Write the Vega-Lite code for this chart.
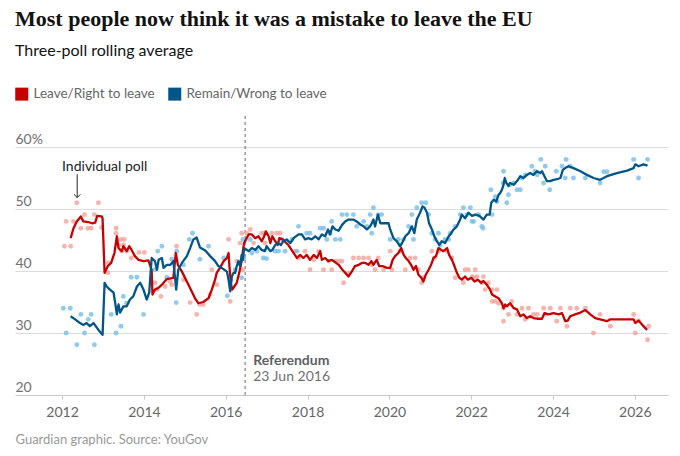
{
  "$schema": "https://vega.github.io/schema/vega-lite/v6.json",
  "width": 653,
  "height": 279,
  "autosize": {"type": "none"},
  "padding": {"left": 15, "top": 116, "right": 12, "bottom": 61},
  "title": {
    "text": "Most people now think it was a mistake to leave the EU",
    "subtitle": "Three-poll rolling average",
    "anchor": "start",
    "frame": "group",
    "offset": 27,
    "font": "Liberation Serif",
    "fontSize": 22,
    "fontWeight": "bold",
    "color": "#121212",
    "subtitleFont": "Lato",
    "subtitleFontSize": 16,
    "subtitleColor": "#121212",
    "subtitlePadding": 12
  },
  "datasets": {
    "avg": [
      {"t": 2012.21, "v": 45.3, "s": "L"}, {"t": 2012.28, "v": 46.9, "s": "L"}, {"t": 2012.36, "v": 48.0, "s": "L"},
      {"t": 2012.46, "v": 48.8, "s": "L"}, {"t": 2012.52, "v": 48.0, "s": "L"}, {"t": 2012.64, "v": 47.9, "s": "L"},
      {"t": 2012.73, "v": 47.7, "s": "L"}, {"t": 2012.81, "v": 47.8, "s": "L"}, {"t": 2012.86, "v": 48.9, "s": "L"},
      {"t": 2012.97, "v": 48.8, "s": "L"}, {"t": 2012.99, "v": 48.5, "s": "L"}, {"t": 2013.04, "v": 39.7, "s": "L"},
      {"t": 2013.12, "v": 40.8, "s": "L"}, {"t": 2013.2, "v": 41.3, "s": "L"}, {"t": 2013.28, "v": 42.9, "s": "L"},
      {"t": 2013.34, "v": 45.6, "s": "L"}, {"t": 2013.38, "v": 43.7, "s": "L"}, {"t": 2013.46, "v": 43.2, "s": "L"},
      {"t": 2013.5, "v": 44.0, "s": "L"}, {"t": 2013.58, "v": 43.2, "s": "L"}, {"t": 2013.64, "v": 44.0, "s": "L"},
      {"t": 2013.7, "v": 43.4, "s": "L"}, {"t": 2013.78, "v": 42.4, "s": "L"}, {"t": 2013.87, "v": 41.8, "s": "L"},
      {"t": 2013.99, "v": 41.6, "s": "L"}, {"t": 2014.11, "v": 41.7, "s": "L"}, {"t": 2014.19, "v": 40.2, "s": "L"},
      {"t": 2014.21, "v": 36.2, "s": "L"}, {"t": 2014.27, "v": 37.0, "s": "L"}, {"t": 2014.36, "v": 37.3, "s": "L"},
      {"t": 2014.44, "v": 37.8, "s": "L"}, {"t": 2014.56, "v": 38.7, "s": "L"}, {"t": 2014.72, "v": 38.9, "s": "L"},
      {"t": 2014.78, "v": 42.9, "s": "L"}, {"t": 2014.83, "v": 41.0, "s": "L"}, {"t": 2014.93, "v": 39.9, "s": "L"},
      {"t": 2015.05, "v": 38.3, "s": "L"}, {"t": 2015.17, "v": 36.7, "s": "L"}, {"t": 2015.25, "v": 35.6, "s": "L"},
      {"t": 2015.33, "v": 34.8, "s": "L"}, {"t": 2015.45, "v": 35.0, "s": "L"}, {"t": 2015.58, "v": 35.6, "s": "L"},
      {"t": 2015.66, "v": 37.0, "s": "L"}, {"t": 2015.74, "v": 38.6, "s": "L"}, {"t": 2015.78, "v": 39.7, "s": "L"},
      {"t": 2015.86, "v": 40.5, "s": "L"}, {"t": 2015.95, "v": 41.6, "s": "L"}, {"t": 2016.03, "v": 42.1, "s": "L"},
      {"t": 2016.07, "v": 42.9, "s": "L"}, {"t": 2016.09, "v": 40.8, "s": "L"}, {"t": 2016.13, "v": 37.8, "s": "L"},
      {"t": 2016.16, "v": 37.0, "s": "L"}, {"t": 2016.21, "v": 37.5, "s": "L"}, {"t": 2016.27, "v": 38.1, "s": "L"},
      {"t": 2016.33, "v": 39.7, "s": "L"}, {"t": 2016.39, "v": 41.6, "s": "L"}, {"t": 2016.43, "v": 43.7, "s": "L"},
      {"t": 2016.45, "v": 44.5, "s": "L"}, {"t": 2016.56, "v": 45.9, "s": "L"}, {"t": 2016.64, "v": 45.9, "s": "L"},
      {"t": 2016.72, "v": 45.3, "s": "L"}, {"t": 2016.8, "v": 45.6, "s": "L"}, {"t": 2016.88, "v": 44.8, "s": "L"},
      {"t": 2016.94, "v": 45.6, "s": "L"}, {"t": 2016.98, "v": 46.4, "s": "L"}, {"t": 2017.05, "v": 45.6, "s": "L"},
      {"t": 2017.09, "v": 44.5, "s": "L"}, {"t": 2017.14, "v": 45.6, "s": "L"}, {"t": 2017.21, "v": 44.8, "s": "L"},
      {"t": 2017.27, "v": 44.2, "s": "L"}, {"t": 2017.31, "v": 45.3, "s": "L"}, {"t": 2017.39, "v": 45.1, "s": "L"},
      {"t": 2017.53, "v": 44.2, "s": "L"}, {"t": 2017.66, "v": 42.9, "s": "L"}, {"t": 2017.74, "v": 42.1, "s": "L"},
      {"t": 2017.82, "v": 42.6, "s": "L"}, {"t": 2017.9, "v": 42.1, "s": "L"}, {"t": 2017.98, "v": 42.6, "s": "L"},
      {"t": 2018.06, "v": 41.8, "s": "L"}, {"t": 2018.15, "v": 42.6, "s": "L"}, {"t": 2018.23, "v": 42.1, "s": "L"},
      {"t": 2018.31, "v": 43.2, "s": "L"}, {"t": 2018.35, "v": 41.8, "s": "L"}, {"t": 2018.43, "v": 42.1, "s": "L"},
      {"t": 2018.51, "v": 41.6, "s": "L"}, {"t": 2018.59, "v": 41.8, "s": "L"}, {"t": 2018.68, "v": 41.4, "s": "L"},
      {"t": 2018.76, "v": 41.0, "s": "L"}, {"t": 2018.84, "v": 40.3, "s": "L"}, {"t": 2018.92, "v": 39.7, "s": "L"},
      {"t": 2019.0, "v": 39.1, "s": "L"}, {"t": 2019.08, "v": 39.9, "s": "L"}, {"t": 2019.16, "v": 40.8, "s": "L"},
      {"t": 2019.25, "v": 41.0, "s": "L"}, {"t": 2019.33, "v": 41.3, "s": "L"}, {"t": 2019.41, "v": 41.3, "s": "L"},
      {"t": 2019.49, "v": 41.0, "s": "L"}, {"t": 2019.56, "v": 41.6, "s": "L"}, {"t": 2019.61, "v": 41.0, "s": "L"},
      {"t": 2019.69, "v": 41.8, "s": "L"}, {"t": 2019.75, "v": 40.8, "s": "L"}, {"t": 2019.83, "v": 40.8, "s": "L"},
      {"t": 2019.94, "v": 40.5, "s": "L"}, {"t": 2020.02, "v": 40.5, "s": "L"}, {"t": 2020.08, "v": 41.8, "s": "L"},
      {"t": 2020.14, "v": 42.4, "s": "L"}, {"t": 2020.22, "v": 42.9, "s": "L"}, {"t": 2020.29, "v": 43.7, "s": "L"},
      {"t": 2020.35, "v": 42.6, "s": "L"}, {"t": 2020.4, "v": 42.1, "s": "L"}, {"t": 2020.47, "v": 41.6, "s": "L"},
      {"t": 2020.53, "v": 41.0, "s": "L"}, {"t": 2020.59, "v": 40.2, "s": "L"}, {"t": 2020.65, "v": 40.8, "s": "L"},
      {"t": 2020.71, "v": 39.4, "s": "L"}, {"t": 2020.78, "v": 38.9, "s": "L"}, {"t": 2020.83, "v": 38.3, "s": "L"},
      {"t": 2020.89, "v": 39.4, "s": "L"}, {"t": 2020.96, "v": 40.2, "s": "L"}, {"t": 2021.02, "v": 41.0, "s": "L"},
      {"t": 2021.08, "v": 42.1, "s": "L"}, {"t": 2021.14, "v": 42.4, "s": "L"}, {"t": 2021.2, "v": 43.7, "s": "L"},
      {"t": 2021.27, "v": 43.4, "s": "L"}, {"t": 2021.32, "v": 43.2, "s": "L"}, {"t": 2021.41, "v": 43.7, "s": "L"},
      {"t": 2021.46, "v": 42.6, "s": "L"}, {"t": 2021.53, "v": 41.8, "s": "L"}, {"t": 2021.59, "v": 40.8, "s": "L"},
      {"t": 2021.65, "v": 39.7, "s": "L"}, {"t": 2021.71, "v": 38.9, "s": "L"}, {"t": 2021.77, "v": 38.6, "s": "L"},
      {"t": 2021.85, "v": 39.1, "s": "L"}, {"t": 2021.92, "v": 38.6, "s": "L"}, {"t": 2022.0, "v": 38.9, "s": "L"},
      {"t": 2022.08, "v": 38.3, "s": "L"}, {"t": 2022.16, "v": 38.6, "s": "L"}, {"t": 2022.24, "v": 38.1, "s": "L"},
      {"t": 2022.3, "v": 38.4, "s": "L"}, {"t": 2022.38, "v": 37.8, "s": "L"}, {"t": 2022.46, "v": 37.0, "s": "L"},
      {"t": 2022.51, "v": 36.2, "s": "L"}, {"t": 2022.59, "v": 35.9, "s": "L"}, {"t": 2022.67, "v": 35.6, "s": "L"},
      {"t": 2022.75, "v": 34.8, "s": "L"}, {"t": 2022.79, "v": 34.0, "s": "L"}, {"t": 2022.83, "v": 34.6, "s": "L"},
      {"t": 2022.87, "v": 34.3, "s": "L"}, {"t": 2022.95, "v": 34.8, "s": "L"}, {"t": 2023.04, "v": 34.0, "s": "L"},
      {"t": 2023.12, "v": 33.8, "s": "L"}, {"t": 2023.2, "v": 32.7, "s": "L"}, {"t": 2023.28, "v": 33.0, "s": "L"},
      {"t": 2023.36, "v": 32.4, "s": "L"}, {"t": 2023.44, "v": 32.7, "s": "L"}, {"t": 2023.52, "v": 32.4, "s": "L"},
      {"t": 2023.61, "v": 32.3, "s": "L"}, {"t": 2023.73, "v": 32.3, "s": "L"}, {"t": 2023.79, "v": 33.2, "s": "L"},
      {"t": 2023.89, "v": 33.0, "s": "L"}, {"t": 2024.01, "v": 33.2, "s": "L"}, {"t": 2024.14, "v": 33.0, "s": "L"},
      {"t": 2024.22, "v": 33.2, "s": "L"}, {"t": 2024.3, "v": 31.9, "s": "L"}, {"t": 2024.36, "v": 32.0, "s": "L"},
      {"t": 2024.42, "v": 32.7, "s": "L"}, {"t": 2024.54, "v": 33.0, "s": "L"}, {"t": 2024.67, "v": 33.3, "s": "L"},
      {"t": 2024.79, "v": 33.7, "s": "L"}, {"t": 2024.91, "v": 33.0, "s": "L"}, {"t": 2025.03, "v": 32.4, "s": "L"},
      {"t": 2025.15, "v": 32.2, "s": "L"}, {"t": 2025.32, "v": 31.9, "s": "L"}, {"t": 2025.4, "v": 32.2, "s": "L"},
      {"t": 2025.97, "v": 32.2, "s": "L"}, {"t": 2026.01, "v": 31.6, "s": "L"}, {"t": 2026.09, "v": 32.0, "s": "L"},
      {"t": 2026.21, "v": 31.1, "s": "L"}, {"t": 2026.3, "v": 30.5, "s": "L"},

      {"t": 2012.21, "v": 32.7, "s": "R"}, {"t": 2012.32, "v": 32.2, "s": "R"}, {"t": 2012.44, "v": 31.6, "s": "R"},
      {"t": 2012.52, "v": 31.3, "s": "R"}, {"t": 2012.6, "v": 31.6, "s": "R"}, {"t": 2012.68, "v": 31.1, "s": "R"},
      {"t": 2012.77, "v": 31.6, "s": "R"}, {"t": 2012.89, "v": 30.5, "s": "R"}, {"t": 2012.99, "v": 29.7, "s": "R"},
      {"t": 2013.04, "v": 38.1, "s": "R"}, {"t": 2013.09, "v": 37.5, "s": "R"}, {"t": 2013.17, "v": 37.0, "s": "R"},
      {"t": 2013.26, "v": 36.5, "s": "R"}, {"t": 2013.3, "v": 34.8, "s": "R"}, {"t": 2013.34, "v": 33.0, "s": "R"},
      {"t": 2013.38, "v": 34.6, "s": "R"}, {"t": 2013.42, "v": 33.3, "s": "R"}, {"t": 2013.5, "v": 34.3, "s": "R"},
      {"t": 2013.58, "v": 34.3, "s": "R"}, {"t": 2013.66, "v": 35.4, "s": "R"}, {"t": 2013.74, "v": 35.9, "s": "R"},
      {"t": 2013.83, "v": 37.5, "s": "R"}, {"t": 2013.91, "v": 38.1, "s": "R"}, {"t": 2013.99, "v": 37.0, "s": "R"},
      {"t": 2014.07, "v": 35.4, "s": "R"}, {"t": 2014.13, "v": 36.5, "s": "R"}, {"t": 2014.19, "v": 42.1, "s": "R"},
      {"t": 2014.27, "v": 41.6, "s": "R"}, {"t": 2014.32, "v": 40.2, "s": "R"}, {"t": 2014.36, "v": 41.8, "s": "R"},
      {"t": 2014.44, "v": 42.1, "s": "R"}, {"t": 2014.48, "v": 40.5, "s": "R"}, {"t": 2014.56, "v": 41.0, "s": "R"},
      {"t": 2014.65, "v": 41.0, "s": "R"}, {"t": 2014.72, "v": 41.6, "s": "R"}, {"t": 2014.79, "v": 37.0, "s": "R"},
      {"t": 2014.84, "v": 40.2, "s": "R"}, {"t": 2014.93, "v": 41.3, "s": "R"}, {"t": 2015.05, "v": 42.4, "s": "R"},
      {"t": 2015.13, "v": 43.7, "s": "R"}, {"t": 2015.21, "v": 45.1, "s": "R"}, {"t": 2015.29, "v": 45.4, "s": "R"},
      {"t": 2015.37, "v": 43.8, "s": "R"}, {"t": 2015.5, "v": 43.3, "s": "R"}, {"t": 2015.62, "v": 42.4, "s": "R"},
      {"t": 2015.74, "v": 41.6, "s": "R"}, {"t": 2015.82, "v": 40.8, "s": "R"}, {"t": 2015.9, "v": 40.5, "s": "R"},
      {"t": 2016.03, "v": 39.9, "s": "R"}, {"t": 2016.07, "v": 38.6, "s": "R"}, {"t": 2016.11, "v": 36.7, "s": "R"},
      {"t": 2016.15, "v": 39.1, "s": "R"}, {"t": 2016.19, "v": 39.7, "s": "R"}, {"t": 2016.23, "v": 39.7, "s": "R"},
      {"t": 2016.27, "v": 40.8, "s": "R"}, {"t": 2016.31, "v": 41.6, "s": "R"}, {"t": 2016.35, "v": 40.8, "s": "R"},
      {"t": 2016.39, "v": 42.6, "s": "R"}, {"t": 2016.42, "v": 41.8, "s": "R"}, {"t": 2016.45, "v": 43.7, "s": "R"},
      {"t": 2016.56, "v": 43.2, "s": "R"}, {"t": 2016.64, "v": 43.7, "s": "R"}, {"t": 2016.72, "v": 43.4, "s": "R"},
      {"t": 2016.8, "v": 44.0, "s": "R"}, {"t": 2016.88, "v": 43.4, "s": "R"}, {"t": 2016.96, "v": 43.2, "s": "R"},
      {"t": 2017.0, "v": 44.0, "s": "R"}, {"t": 2017.09, "v": 43.2, "s": "R"}, {"t": 2017.14, "v": 43.4, "s": "R"},
      {"t": 2017.21, "v": 44.2, "s": "R"}, {"t": 2017.29, "v": 44.5, "s": "R"}, {"t": 2017.35, "v": 44.2, "s": "R"},
      {"t": 2017.41, "v": 44.8, "s": "R"}, {"t": 2017.49, "v": 45.1, "s": "R"}, {"t": 2017.58, "v": 44.5, "s": "R"},
      {"t": 2017.66, "v": 45.3, "s": "R"}, {"t": 2017.78, "v": 45.9, "s": "R"}, {"t": 2017.86, "v": 45.9, "s": "R"},
      {"t": 2017.94, "v": 45.1, "s": "R"}, {"t": 2018.02, "v": 45.3, "s": "R"}, {"t": 2018.1, "v": 45.1, "s": "R"},
      {"t": 2018.19, "v": 45.6, "s": "R"}, {"t": 2018.27, "v": 45.1, "s": "R"}, {"t": 2018.35, "v": 45.9, "s": "R"},
      {"t": 2018.43, "v": 45.6, "s": "R"}, {"t": 2018.5, "v": 46.7, "s": "R"}, {"t": 2018.55, "v": 45.9, "s": "R"},
      {"t": 2018.61, "v": 47.2, "s": "R"}, {"t": 2018.68, "v": 46.7, "s": "R"}, {"t": 2018.76, "v": 46.5, "s": "R"},
      {"t": 2018.84, "v": 47.4, "s": "R"}, {"t": 2018.92, "v": 48.0, "s": "R"}, {"t": 2019.0, "v": 48.3, "s": "R"},
      {"t": 2019.12, "v": 48.3, "s": "R"}, {"t": 2019.2, "v": 48.0, "s": "R"}, {"t": 2019.29, "v": 47.5, "s": "R"},
      {"t": 2019.37, "v": 47.2, "s": "R"}, {"t": 2019.45, "v": 46.7, "s": "R"}, {"t": 2019.53, "v": 47.2, "s": "R"},
      {"t": 2019.57, "v": 47.7, "s": "R"}, {"t": 2019.61, "v": 48.3, "s": "R"}, {"t": 2019.65, "v": 47.2, "s": "R"},
      {"t": 2019.72, "v": 49.1, "s": "R"}, {"t": 2019.78, "v": 47.7, "s": "R"}, {"t": 2019.86, "v": 47.7, "s": "R"},
      {"t": 2019.98, "v": 47.7, "s": "R"}, {"t": 2020.02, "v": 46.7, "s": "R"}, {"t": 2020.1, "v": 45.3, "s": "R"},
      {"t": 2020.18, "v": 44.8, "s": "R"}, {"t": 2020.26, "v": 44.0, "s": "R"}, {"t": 2020.31, "v": 44.5, "s": "R"},
      {"t": 2020.39, "v": 45.6, "s": "R"}, {"t": 2020.47, "v": 46.1, "s": "R"}, {"t": 2020.55, "v": 47.2, "s": "R"},
      {"t": 2020.61, "v": 46.1, "s": "R"}, {"t": 2020.67, "v": 48.3, "s": "R"}, {"t": 2020.75, "v": 49.4, "s": "R"},
      {"t": 2020.81, "v": 50.4, "s": "R"}, {"t": 2020.86, "v": 50.2, "s": "R"}, {"t": 2020.92, "v": 49.4, "s": "R"},
      {"t": 2020.97, "v": 47.7, "s": "R"}, {"t": 2021.04, "v": 46.7, "s": "R"}, {"t": 2021.1, "v": 45.6, "s": "R"},
      {"t": 2021.16, "v": 44.8, "s": "R"}, {"t": 2021.22, "v": 44.2, "s": "R"}, {"t": 2021.28, "v": 44.8, "s": "R"},
      {"t": 2021.36, "v": 44.5, "s": "R"}, {"t": 2021.45, "v": 45.6, "s": "R"}, {"t": 2021.51, "v": 46.1, "s": "R"},
      {"t": 2021.57, "v": 46.7, "s": "R"}, {"t": 2021.65, "v": 47.2, "s": "R"}, {"t": 2021.73, "v": 48.3, "s": "R"},
      {"t": 2021.77, "v": 49.1, "s": "R"}, {"t": 2021.85, "v": 48.5, "s": "R"}, {"t": 2021.93, "v": 49.4, "s": "R"},
      {"t": 2022.02, "v": 48.9, "s": "R"}, {"t": 2022.1, "v": 49.1, "s": "R"}, {"t": 2022.2, "v": 48.9, "s": "R"},
      {"t": 2022.3, "v": 48.3, "s": "R"}, {"t": 2022.38, "v": 49.1, "s": "R"}, {"t": 2022.45, "v": 49.1, "s": "R"},
      {"t": 2022.49, "v": 51.0, "s": "R"}, {"t": 2022.55, "v": 51.5, "s": "R"}, {"t": 2022.61, "v": 51.2, "s": "R"},
      {"t": 2022.67, "v": 52.3, "s": "R"}, {"t": 2022.71, "v": 52.6, "s": "R"}, {"t": 2022.75, "v": 53.1, "s": "R"},
      {"t": 2022.79, "v": 53.9, "s": "R"}, {"t": 2022.82, "v": 55.0, "s": "R"}, {"t": 2022.86, "v": 54.2, "s": "R"},
      {"t": 2022.91, "v": 53.7, "s": "R"}, {"t": 2022.95, "v": 54.2, "s": "R"}, {"t": 2023.04, "v": 53.9, "s": "R"},
      {"t": 2023.12, "v": 54.5, "s": "R"}, {"t": 2023.2, "v": 55.3, "s": "R"}, {"t": 2023.28, "v": 55.0, "s": "R"},
      {"t": 2023.36, "v": 55.5, "s": "R"}, {"t": 2023.44, "v": 55.8, "s": "R"}, {"t": 2023.52, "v": 55.5, "s": "R"},
      {"t": 2023.61, "v": 56.1, "s": "R"}, {"t": 2023.69, "v": 55.8, "s": "R"}, {"t": 2023.73, "v": 56.1, "s": "R"},
      {"t": 2023.79, "v": 55.3, "s": "R"}, {"t": 2023.85, "v": 54.5, "s": "R"}, {"t": 2023.93, "v": 54.5, "s": "R"},
      {"t": 2024.01, "v": 54.7, "s": "R"}, {"t": 2024.1, "v": 54.8, "s": "R"}, {"t": 2024.18, "v": 55.0, "s": "R"},
      {"t": 2024.24, "v": 56.3, "s": "R"}, {"t": 2024.3, "v": 56.6, "s": "R"}, {"t": 2024.38, "v": 56.9, "s": "R"},
      {"t": 2024.5, "v": 56.6, "s": "R"}, {"t": 2024.67, "v": 56.1, "s": "R"}, {"t": 2024.83, "v": 55.5, "s": "R"},
      {"t": 2024.99, "v": 55.0, "s": "R"}, {"t": 2025.15, "v": 54.7, "s": "R"}, {"t": 2025.32, "v": 55.3, "s": "R"},
      {"t": 2025.56, "v": 55.8, "s": "R"}, {"t": 2025.81, "v": 56.2, "s": "R"}, {"t": 2025.97, "v": 56.6, "s": "R"},
      {"t": 2026.01, "v": 57.2, "s": "R"}, {"t": 2026.09, "v": 56.9, "s": "R"}, {"t": 2026.21, "v": 57.2, "s": "R"},
      {"t": 2026.31, "v": 57.0, "s": "R"}
    ],
    "polls": [
      {"t": 2012.06, "v": 44.0, "s": "L"}, {"t": 2012.21, "v": 44.0, "s": "L"}, {"t": 2012.1, "v": 48.0, "s": "L"},
      {"t": 2012.28, "v": 48.0, "s": "L"}, {"t": 2012.36, "v": 51.0, "s": "L"}, {"t": 2012.46, "v": 46.9, "s": "L"},
      {"t": 2012.55, "v": 49.1, "s": "L"}, {"t": 2012.63, "v": 46.9, "s": "L"}, {"t": 2012.71, "v": 46.9, "s": "L"},
      {"t": 2012.79, "v": 49.1, "s": "L"}, {"t": 2012.89, "v": 51.0, "s": "L"}, {"t": 2012.97, "v": 47.0, "s": "L"},
      {"t": 2013.12, "v": 39.7, "s": "L"}, {"t": 2013.13, "v": 41.3, "s": "L"}, {"t": 2013.32, "v": 46.9, "s": "L"},
      {"t": 2013.32, "v": 46.1, "s": "L"}, {"t": 2013.38, "v": 44.2, "s": "L"}, {"t": 2013.44, "v": 45.1, "s": "L"},
      {"t": 2013.46, "v": 43.2, "s": "L"}, {"t": 2013.5, "v": 44.2, "s": "L"}, {"t": 2013.52, "v": 45.1, "s": "L"},
      {"t": 2013.58, "v": 43.2, "s": "L"}, {"t": 2013.69, "v": 42.1, "s": "L"}, {"t": 2013.88, "v": 43.0, "s": "L"},
      {"t": 2014.01, "v": 43.0, "s": "L"}, {"t": 2014.27, "v": 38.1, "s": "L"}, {"t": 2014.32, "v": 37.0, "s": "L"},
      {"t": 2014.42, "v": 35.9, "s": "L"}, {"t": 2014.52, "v": 37.5, "s": "L"}, {"t": 2014.64, "v": 38.3, "s": "L"},
      {"t": 2014.68, "v": 37.8, "s": "L"}, {"t": 2014.8, "v": 44.0, "s": "L"}, {"t": 2014.97, "v": 38.6, "s": "L"},
      {"t": 2015.13, "v": 34.9, "s": "L"}, {"t": 2015.29, "v": 33.0, "s": "L"}, {"t": 2015.37, "v": 34.6, "s": "L"},
      {"t": 2015.45, "v": 34.6, "s": "L"}, {"t": 2015.62, "v": 36.2, "s": "L"}, {"t": 2015.66, "v": 40.2, "s": "L"},
      {"t": 2015.78, "v": 37.8, "s": "L"}, {"t": 2016.07, "v": 45.1, "s": "L"}, {"t": 2016.11, "v": 35.1, "s": "L"},
      {"t": 2016.27, "v": 41.6, "s": "L"}, {"t": 2016.35, "v": 44.5, "s": "L"}, {"t": 2016.39, "v": 46.1, "s": "L"},
      {"t": 2016.42, "v": 40.2, "s": "L"}, {"t": 2016.52, "v": 46.1, "s": "L"}, {"t": 2016.6, "v": 46.7, "s": "L"},
      {"t": 2016.68, "v": 44.5, "s": "L"}, {"t": 2016.88, "v": 46.1, "s": "L"}, {"t": 2016.96, "v": 46.1, "s": "L"},
      {"t": 2016.96, "v": 44.5, "s": "L"}, {"t": 2017.13, "v": 46.1, "s": "L"}, {"t": 2017.25, "v": 46.1, "s": "L"},
      {"t": 2017.33, "v": 46.1, "s": "L"}, {"t": 2017.7, "v": 43.2, "s": "L"}, {"t": 2017.78, "v": 42.1, "s": "L"},
      {"t": 2017.94, "v": 43.2, "s": "L"}, {"t": 2018.06, "v": 40.2, "s": "L"}, {"t": 2018.15, "v": 41.8, "s": "L"},
      {"t": 2018.27, "v": 43.2, "s": "L"}, {"t": 2018.39, "v": 40.2, "s": "L"}, {"t": 2018.51, "v": 41.6, "s": "L"},
      {"t": 2018.59, "v": 40.2, "s": "L"}, {"t": 2018.68, "v": 41.6, "s": "L"}, {"t": 2018.76, "v": 41.6, "s": "L"},
      {"t": 2018.84, "v": 41.6, "s": "L"}, {"t": 2018.88, "v": 38.1, "s": "L"}, {"t": 2019.0, "v": 39.7, "s": "L"},
      {"t": 2019.12, "v": 42.1, "s": "L"}, {"t": 2019.25, "v": 42.1, "s": "L"}, {"t": 2019.37, "v": 42.1, "s": "L"},
      {"t": 2019.49, "v": 42.1, "s": "L"}, {"t": 2019.57, "v": 41.0, "s": "L"}, {"t": 2019.65, "v": 40.2, "s": "L"},
      {"t": 2019.73, "v": 42.1, "s": "L"}, {"t": 2019.86, "v": 40.2, "s": "L"}, {"t": 2020.02, "v": 43.2, "s": "L"},
      {"t": 2020.06, "v": 40.2, "s": "L"}, {"t": 2020.26, "v": 43.2, "s": "L"}, {"t": 2020.39, "v": 40.2, "s": "L"},
      {"t": 2020.51, "v": 42.1, "s": "L"}, {"t": 2020.63, "v": 42.1, "s": "L"}, {"t": 2020.71, "v": 40.2, "s": "L"},
      {"t": 2020.79, "v": 38.1, "s": "L"}, {"t": 2020.84, "v": 38.9, "s": "L"}, {"t": 2021.04, "v": 43.2, "s": "L"},
      {"t": 2021.1, "v": 42.1, "s": "L"}, {"t": 2021.2, "v": 43.2, "s": "L"}, {"t": 2021.41, "v": 43.2, "s": "L"},
      {"t": 2021.53, "v": 42.1, "s": "L"}, {"t": 2021.61, "v": 38.9, "s": "L"}, {"t": 2021.81, "v": 38.1, "s": "L"},
      {"t": 2021.85, "v": 40.2, "s": "L"}, {"t": 2021.93, "v": 40.2, "s": "L"}, {"t": 2022.02, "v": 39.1, "s": "L"},
      {"t": 2022.06, "v": 38.9, "s": "L"}, {"t": 2022.1, "v": 40.2, "s": "L"}, {"t": 2022.14, "v": 39.1, "s": "L"},
      {"t": 2022.26, "v": 38.1, "s": "L"}, {"t": 2022.3, "v": 39.1, "s": "L"}, {"t": 2022.34, "v": 37.0, "s": "L"},
      {"t": 2022.42, "v": 38.1, "s": "L"}, {"t": 2022.51, "v": 37.0, "s": "L"}, {"t": 2022.51, "v": 35.1, "s": "L"},
      {"t": 2022.59, "v": 35.1, "s": "L"}, {"t": 2022.63, "v": 37.0, "s": "L"}, {"t": 2022.67, "v": 34.8, "s": "L"},
      {"t": 2022.79, "v": 34.0, "s": "L"}, {"t": 2022.79, "v": 31.9, "s": "L"}, {"t": 2022.91, "v": 33.0, "s": "L"},
      {"t": 2022.99, "v": 35.1, "s": "L"}, {"t": 2023.12, "v": 33.0, "s": "L"}, {"t": 2023.24, "v": 34.0, "s": "L"},
      {"t": 2023.32, "v": 32.2, "s": "L"}, {"t": 2023.4, "v": 34.0, "s": "L"}, {"t": 2023.52, "v": 33.0, "s": "L"},
      {"t": 2023.61, "v": 33.0, "s": "L"}, {"t": 2023.77, "v": 34.0, "s": "L"}, {"t": 2023.81, "v": 33.0, "s": "L"},
      {"t": 2023.93, "v": 34.0, "s": "L"}, {"t": 2024.09, "v": 31.9, "s": "L"}, {"t": 2024.18, "v": 34.0, "s": "L"},
      {"t": 2024.34, "v": 31.1, "s": "L"}, {"t": 2024.42, "v": 34.0, "s": "L"}, {"t": 2024.58, "v": 34.0, "s": "L"},
      {"t": 2024.79, "v": 34.0, "s": "L"}, {"t": 2024.99, "v": 30.0, "s": "L"}, {"t": 2025.15, "v": 33.0, "s": "L"},
      {"t": 2025.4, "v": 31.1, "s": "L"}, {"t": 2025.97, "v": 33.0, "s": "L"}, {"t": 2026.01, "v": 30.0, "s": "L"},
      {"t": 2026.09, "v": 32.0, "s": "L"}, {"t": 2026.31, "v": 28.9, "s": "L"}, {"t": 2026.34, "v": 31.1, "s": "L"},

      {"t": 2012.03, "v": 34.0, "s": "R"}, {"t": 2012.2, "v": 34.0, "s": "R"}, {"t": 2012.1, "v": 30.0, "s": "R"},
      {"t": 2012.36, "v": 28.1, "s": "R"}, {"t": 2012.46, "v": 33.0, "s": "R"}, {"t": 2012.55, "v": 30.0, "s": "R"},
      {"t": 2012.64, "v": 32.2, "s": "R"}, {"t": 2012.71, "v": 33.0, "s": "R"}, {"t": 2012.79, "v": 28.1, "s": "R"},
      {"t": 2013.2, "v": 33.0, "s": "R"}, {"t": 2013.32, "v": 30.0, "s": "R"}, {"t": 2013.44, "v": 31.1, "s": "R"},
      {"t": 2013.5, "v": 35.9, "s": "R"}, {"t": 2013.58, "v": 34.8, "s": "R"}, {"t": 2013.69, "v": 39.0, "s": "R"},
      {"t": 2013.83, "v": 39.0, "s": "R"}, {"t": 2013.99, "v": 33.0, "s": "R"}, {"t": 2014.27, "v": 40.2, "s": "R"},
      {"t": 2014.34, "v": 43.2, "s": "R"}, {"t": 2014.44, "v": 44.0, "s": "R"}, {"t": 2014.56, "v": 39.0, "s": "R"},
      {"t": 2014.68, "v": 41.9, "s": "R"}, {"t": 2014.79, "v": 34.9, "s": "R"}, {"t": 2014.8, "v": 43.2, "s": "R"},
      {"t": 2014.97, "v": 41.0, "s": "R"}, {"t": 2015.11, "v": 45.1, "s": "R"}, {"t": 2015.19, "v": 46.1, "s": "R"},
      {"t": 2015.37, "v": 41.9, "s": "R"}, {"t": 2015.58, "v": 44.0, "s": "R"}, {"t": 2015.95, "v": 42.1, "s": "R"},
      {"t": 2016.04, "v": 36.0, "s": "R"}, {"t": 2016.11, "v": 38.5, "s": "R"}, {"t": 2016.23, "v": 40.2, "s": "R"},
      {"t": 2016.39, "v": 38.9, "s": "R"}, {"t": 2016.42, "v": 45.1, "s": "R"}, {"t": 2016.44, "v": 42.0, "s": "R"},
      {"t": 2016.6, "v": 45.1, "s": "R"}, {"t": 2016.64, "v": 42.9, "s": "R"}, {"t": 2016.76, "v": 43.2, "s": "R"},
      {"t": 2016.92, "v": 42.1, "s": "R"}, {"t": 2017.0, "v": 42.0, "s": "R"}, {"t": 2017.21, "v": 43.2, "s": "R"},
      {"t": 2017.29, "v": 43.2, "s": "R"}, {"t": 2017.37, "v": 45.1, "s": "R"}, {"t": 2017.45, "v": 43.2, "s": "R"},
      {"t": 2017.62, "v": 45.1, "s": "R"}, {"t": 2017.74, "v": 43.2, "s": "R"}, {"t": 2017.78, "v": 47.2, "s": "R"},
      {"t": 2017.98, "v": 46.1, "s": "R"}, {"t": 2018.06, "v": 46.1, "s": "R"}, {"t": 2018.31, "v": 46.9, "s": "R"},
      {"t": 2018.39, "v": 46.9, "s": "R"}, {"t": 2018.47, "v": 45.1, "s": "R"}, {"t": 2018.55, "v": 46.1, "s": "R"},
      {"t": 2018.59, "v": 48.0, "s": "R"}, {"t": 2018.68, "v": 45.1, "s": "R"}, {"t": 2018.84, "v": 49.1, "s": "R"},
      {"t": 2018.8, "v": 45.1, "s": "R"}, {"t": 2018.96, "v": 49.1, "s": "R"}, {"t": 2019.12, "v": 49.1, "s": "R"},
      {"t": 2019.2, "v": 47.2, "s": "R"}, {"t": 2019.37, "v": 48.0, "s": "R"}, {"t": 2019.45, "v": 47.2, "s": "R"},
      {"t": 2019.53, "v": 49.1, "s": "R"}, {"t": 2019.57, "v": 46.1, "s": "R"}, {"t": 2019.61, "v": 50.2, "s": "R"},
      {"t": 2019.73, "v": 49.1, "s": "R"}, {"t": 2019.81, "v": 49.1, "s": "R"}, {"t": 2020.02, "v": 45.1, "s": "R"},
      {"t": 2020.22, "v": 45.1, "s": "R"}, {"t": 2020.26, "v": 44.2, "s": "R"}, {"t": 2020.35, "v": 45.1, "s": "R"},
      {"t": 2020.47, "v": 47.2, "s": "R"}, {"t": 2020.55, "v": 49.1, "s": "R"}, {"t": 2020.59, "v": 45.1, "s": "R"},
      {"t": 2020.67, "v": 50.2, "s": "R"}, {"t": 2020.79, "v": 51.0, "s": "R"}, {"t": 2020.89, "v": 51.0, "s": "R"},
      {"t": 2020.96, "v": 49.1, "s": "R"}, {"t": 2021.04, "v": 46.1, "s": "R"}, {"t": 2021.12, "v": 45.1, "s": "R"},
      {"t": 2021.2, "v": 46.1, "s": "R"}, {"t": 2021.24, "v": 44.2, "s": "R"}, {"t": 2021.36, "v": 45.1, "s": "R"},
      {"t": 2021.45, "v": 45.1, "s": "R"}, {"t": 2021.49, "v": 46.1, "s": "R"}, {"t": 2021.61, "v": 47.2, "s": "R"},
      {"t": 2021.73, "v": 49.1, "s": "R"}, {"t": 2021.81, "v": 50.2, "s": "R"}, {"t": 2021.9, "v": 49.1, "s": "R"},
      {"t": 2021.98, "v": 50.2, "s": "R"}, {"t": 2022.06, "v": 48.0, "s": "R"}, {"t": 2022.18, "v": 49.1, "s": "R"},
      {"t": 2022.26, "v": 47.2, "s": "R"}, {"t": 2022.02, "v": 48.0, "s": "R"}, {"t": 2022.29, "v": 46.9, "s": "R"},
      {"t": 2022.51, "v": 49.1, "s": "R"}, {"t": 2022.48, "v": 53.1, "s": "R"}, {"t": 2022.59, "v": 52.0, "s": "R"},
      {"t": 2022.63, "v": 51.2, "s": "R"}, {"t": 2022.79, "v": 56.1, "s": "R"}, {"t": 2022.78, "v": 54.2, "s": "R"},
      {"t": 2022.87, "v": 51.0, "s": "R"}, {"t": 2022.91, "v": 52.3, "s": "R"}, {"t": 2022.95, "v": 53.9, "s": "R"},
      {"t": 2023.04, "v": 54.2, "s": "R"}, {"t": 2023.12, "v": 53.1, "s": "R"}, {"t": 2023.2, "v": 53.1, "s": "R"},
      {"t": 2023.24, "v": 55.0, "s": "R"}, {"t": 2023.32, "v": 55.5, "s": "R"}, {"t": 2023.48, "v": 56.9, "s": "R"},
      {"t": 2023.56, "v": 56.1, "s": "R"}, {"t": 2023.61, "v": 55.5, "s": "R"}, {"t": 2023.7, "v": 58.0, "s": "R"},
      {"t": 2023.77, "v": 54.2, "s": "R"}, {"t": 2023.81, "v": 56.9, "s": "R"}, {"t": 2023.92, "v": 53.1, "s": "R"},
      {"t": 2024.08, "v": 56.1, "s": "R"}, {"t": 2024.22, "v": 56.9, "s": "R"}, {"t": 2024.3, "v": 55.0, "s": "R"},
      {"t": 2024.32, "v": 58.0, "s": "R"}, {"t": 2024.42, "v": 56.9, "s": "R"}, {"t": 2024.5, "v": 55.0, "s": "R"},
      {"t": 2024.79, "v": 55.0, "s": "R"}, {"t": 2025.15, "v": 54.2, "s": "R"}, {"t": 2025.24, "v": 56.0, "s": "R"},
      {"t": 2025.32, "v": 56.0, "s": "R"}, {"t": 2025.97, "v": 58.0, "s": "R"}, {"t": 2026.09, "v": 55.0, "s": "R"},
      {"t": 2026.31, "v": 58.0, "s": "R"}
    ],
    "series": [
      {"t": 2012.21, "v": 45.3, "s": "Leave/Right to leave"},
      {"t": 2012.21, "v": 32.7, "s": "Remain/Wrong to leave"}
    ],
    "ref": [{"t": 2016.476}],
    "reflabel": [{"t": 2016.476, "v": 25.55, "label": "Referendum"}],
    "refdate": [{"t": 2016.476, "v": 22.95, "label": "23 Jun 2016"}],
    "note": [{"t": 2012.0, "v": 56.85, "label": "Individual poll"}],
    "arrow": [{"t": 2012.37, "v": 55.6, "v2": 51.85}],
    "arrowhead": [{"t": 2012.37, "v": 51.85}]
  },
  "layer": [
    {
      "data": {"name": "ref"},
      "mark": {"type": "rule", "color": "#999999", "strokeDash": [3, 3], "strokeWidth": 1.5},
      "encoding": {"x": {"field": "t", "type": "quantitative"}}
    },
    {
      "data": {"name": "polls"},
      "mark": {"type": "circle", "size": 24, "opacity": 0.8},
      "encoding": {
        "x": {"field": "t", "type": "quantitative"},
        "y": {"field": "v", "type": "quantitative"},
        "color": {
          "field": "s",
          "type": "nominal",
          "scale": {"domain": ["L", "R"], "range": ["#f4a19b", "#77bde7"]},
          "legend": null
        }
      }
    },
    {
      "data": {"name": "avg"},
      "mark": {"type": "line", "strokeWidth": 2.3, "strokeJoin": "round"},
      "encoding": {
        "x": {
          "field": "t",
          "type": "quantitative",
          "scale": {"domain": [2010.85, 2026.81], "nice": false, "zero": false},
          "axis": {
            "values": [2012, 2014, 2016, 2018, 2020, 2022, 2024, 2026],
            "format": "d",
            "grid": false,
            "domainColor": "#c8c8c8",
            "tickColor": "#c8c8c8",
            "tickSize": 4,
            "labelPadding": 6,
            "labelFont": "Lato",
            "labelFontSize": 14,
            "labelColor": "#666666",
            "title": "Guardian graphic. Source: YouGov",
            "titleAnchor": "start",
            "titleAlign": "left",
            "titleBaseline": "alphabetic",
            "titleX": 0,
            "titleY": 48,
            "titleFont": "Lato",
            "titleFontSize": 13,
            "titleFontWeight": "normal",
            "titleColor": "#999999"
          }
        },
        "y": {
          "field": "v",
          "type": "quantitative",
          "scale": {"domain": [20, 65], "nice": false, "zero": false},
          "axis": {
            "values": [20, 30, 40, 50, 60],
            "labelExpr": "datum.value == 60 ? '60%' : datum.label",
            "domain": false,
            "ticks": false,
            "tickSize": 0,
            "labelPadding": 0,
            "labelAlign": "left",
            "labelBaseline": "alphabetic",
            "labelOffset": -4,
            "labelFont": "Lato",
            "labelFontSize": 14,
            "labelColor": "#707070",
            "gridColor": "#dcdcdc",
            "title": null
          }
        },
        "detail": {"field": "s"},
        "stroke": {
          "field": "s",
          "type": "nominal",
          "scale": {"domain": ["L", "R"], "range": ["#c70000", "#005689"]},
          "legend": null
        }
      }
    },
    {
      "data": {"name": "series"},
      "mark": {"type": "square", "filled": true, "opacity": 0},
      "encoding": {
        "x": {"field": "t", "type": "quantitative"},
        "y": {"field": "v", "type": "quantitative"},
        "fill": {
          "field": "s",
          "type": "nominal",
          "scale": {"domain": ["Leave/Right to leave", "Remain/Wrong to leave"], "range": ["#c70000", "#005689"]},
          "legend": {
            "orient": "none",
            "legendX": 0,
            "legendY": -29,
            "direction": "horizontal",
            "title": null,
            "symbolType": "square",
            "symbolSize": 169,
            "symbolOpacity": 1,
            "symbolStrokeWidth": 0,
            "columnPadding": 13,
            "labelOffset": 5,
            "labelFont": "Lato",
            "labelFontSize": 13.5,
            "labelColor": "#666666"
          }
        }
      }
    },
    {
      "data": {"name": "reflabel"},
      "mark": {"type": "text", "align": "left", "dx": 8, "font": "Lato", "fontSize": 14, "fontWeight": "bold", "color": "#606060"},
      "encoding": {
        "x": {"field": "t", "type": "quantitative"},
        "y": {"field": "v", "type": "quantitative"},
        "text": {"field": "label"}
      }
    },
    {
      "data": {"name": "refdate"},
      "mark": {"type": "text", "align": "left", "dx": 8, "font": "Lato", "fontSize": 14, "color": "#707070"},
      "encoding": {
        "x": {"field": "t", "type": "quantitative"},
        "y": {"field": "v", "type": "quantitative"},
        "text": {"field": "label"}
      }
    },
    {
      "data": {"name": "note"},
      "mark": {"type": "text", "align": "left", "font": "Lato", "fontSize": 14, "color": "#222222"},
      "encoding": {
        "x": {"field": "t", "type": "quantitative"},
        "y": {"field": "v", "type": "quantitative"},
        "text": {"field": "label"}
      }
    },
    {
      "data": {"name": "arrow"},
      "mark": {"type": "rule", "color": "#222222", "strokeWidth": 1},
      "encoding": {
        "x": {"field": "t", "type": "quantitative"},
        "y": {"field": "v", "type": "quantitative"},
        "y2": {"field": "v2"}
      }
    },
    {
      "data": {"name": "arrowhead"},
      "mark": {"type": "point", "shape": "M-1,-1L0,0L1,-1", "size": 40, "filled": false, "color": "#222222", "strokeWidth": 1, "opacity": 1},
      "encoding": {
        "x": {"field": "t", "type": "quantitative"},
        "y": {"field": "v", "type": "quantitative"}
      }
    }
  ],
  "config": {
    "view": {"stroke": null},
    "font": "Lato"
  }
}
